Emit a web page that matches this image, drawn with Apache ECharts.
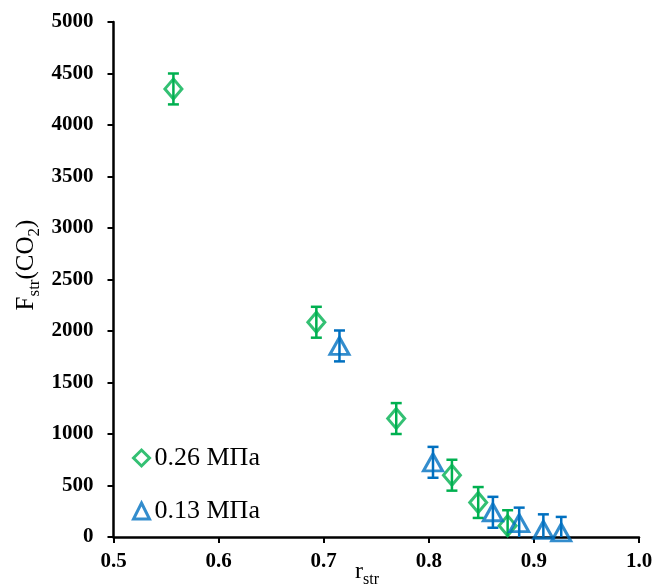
<!DOCTYPE html>
<html><head><meta charset="utf-8">
<script src="https://cdn.jsdelivr.net/npm/echarts@6/dist/echarts.min.js"></script>
<style>html,body{margin:0;padding:0;background:#fff}#c{width:659px;height:588px}</style>
</head><body><div id="c"></div>
<script>
// ---- data ----
const seriesNames = ['0.26 МПа', '0.13 МПа'];
const rGreen = [0.557, 0.693, 0.769, 0.822, 0.847, 0.875];
const fGreen = [4350, 2085, 1150, 600, 335, 110];
const errGreen = [150, 150, 150, 150, 150, 150];
const rBlue = [0.715, 0.804, 0.861, 0.886, 0.909, 0.926];
const fBlue = [1855, 725, 240, 135, 70, 45];
const errBlue = [150, 150, 150, 150, 150, 150];
const xMin = 0.5, xMax = 1.0, xStep = 0.1;
const yMin = 0, yMax = 5000, yStep = 500;

const GREEN = '#00B050', BLUE = '#0070C0';
const SERIF = '"Liberation Serif", "Times New Roman", serif';

const pts = (xs, ys, es) => xs.map((x, i) => [x, ys[i], es[i]]);

function errRender(params, api) {
  const x = api.value(0), y = api.value(1), e = api.value(2);
  const hi = y + e;
  let lo = y - e, clamped = false;
  if (lo < yMin) { lo = yMin; clamped = true; }
  const t = api.coord([x, hi]), b = api.coord([x, lo]);
  const cw = 5.5;
  const style = { stroke: api.visual('color'), lineWidth: 2.5 };
  const children = [
    { type: 'line', shape: { x1: t[0], y1: t[1], x2: b[0], y2: b[1] }, style },
    { type: 'line', shape: { x1: t[0] - cw, y1: t[1], x2: t[0] + cw, y2: t[1] }, style }
  ];
  if (!clamped) children.push({ type: 'line', shape: { x1: b[0] - cw, y1: b[1], x2: b[0] + cw, y2: b[1] }, style });
  return { type: 'group', children };
}

const chart = echarts.init(document.getElementById('c'), null, { renderer: 'canvas' });
chart.setOption({
  backgroundColor: '#fff',
  animation: false,
  grid: { left: 113.5, right: 20, top: 22, bottom: 51, containLabel: false },
  xAxis: {
    type: 'value', min: xMin, max: xMax, interval: xStep,
    axisLine: { show: true, onZero: false, lineStyle: { color: '#000', width: 2.5 } },
    axisTick: { show: true, length: 6, lineStyle: { color: '#000', width: 2 } },
    splitLine: { show: false },
    axisLabel: { fontFamily: SERIF, fontWeight: 'bold', fontSize: 21, color: '#000', margin: 14,
      formatter: v => v.toFixed(1) }
  },
  yAxis: {
    type: 'value', min: yMin, max: yMax, interval: yStep,
    axisLine: { show: true, onZero: false, lineStyle: { color: '#000', width: 2.5 } },
    axisTick: { show: true, length: 6, lineStyle: { color: '#000', width: 2 } },
    splitLine: { show: false },
    axisLabel: { fontFamily: SERIF, fontWeight: 'bold', fontSize: 21, color: '#000', margin: 20,
      formatter: v => String(Math.round(v)) }
  },
  legend: {
    data: [
      { name: seriesNames[0], itemStyle: { color: 'rgba(0,0,0,0)', borderColor: GREEN, borderWidth: 3 } },
      { name: seriesNames[1], itemStyle: { color: 'rgba(0,0,0,0)', borderColor: BLUE, borderWidth: 3 } }
    ],
    orient: 'vertical', left: 127, top: 440, itemGap: 27,
    itemWidth: 16, itemHeight: 16,
    textStyle: { fontFamily: SERIF, fontSize: 26, color: '#000' }
  },
  graphic: [
    { type: 'text', x: 355, y: 556, z: 10,
      style: { text: '{a|r}{b|str}', rich: {
        a: { fontFamily: SERIF, fontSize: 24, fill: '#000', color: '#000' },
        b: { fontFamily: SERIF, fontSize: 16, fill: '#000', color: '#000', padding: [16, 0, 0, 0] } } } },
    { type: 'text', x: 26, y: 265, rotation: Math.PI / 2, z: 10,
      style: { text: '{a|F}{b|str}{a|(CO}{b|2}{a|)}', align: 'center', verticalAlign: 'middle', rich: {
        a: { fontFamily: SERIF, fontSize: 25, fill: '#000', color: '#000' },
        b: { fontFamily: SERIF, fontSize: 17, fill: '#000', color: '#000', padding: [17, 0, 0, 0] } } } }
  ],
  series: [
    { type: 'custom', renderItem: errRender, data: pts(rGreen, fGreen, errGreen),
      itemStyle: { color: GREEN }, encode: { x: 0, y: 1 }, z: 3, silent: true },
    { type: 'custom', renderItem: errRender, data: pts(rBlue, fBlue, errBlue),
      itemStyle: { color: BLUE }, encode: { x: 0, y: 1 }, z: 3, silent: true },
    { name: seriesNames[0], type: 'scatter', symbol: 'diamond', symbolSize: [17, 20],
      data: pts(rGreen, fGreen, errGreen).map(p => [p[0], p[1]]),
      itemStyle: { color: 'rgba(0,0,0,0)', borderColor: GREEN, borderWidth: 3 }, z: 4 },
    { name: seriesNames[1], type: 'scatter', symbol: 'triangle', symbolSize: [19, 17],
      data: pts(rBlue, fBlue, errBlue).map(p => [p[0], p[1]]),
      itemStyle: { color: 'rgba(0,0,0,0)', borderColor: BLUE, borderWidth: 3 }, z: 4 }
  ]
});
</script>
</body></html>
